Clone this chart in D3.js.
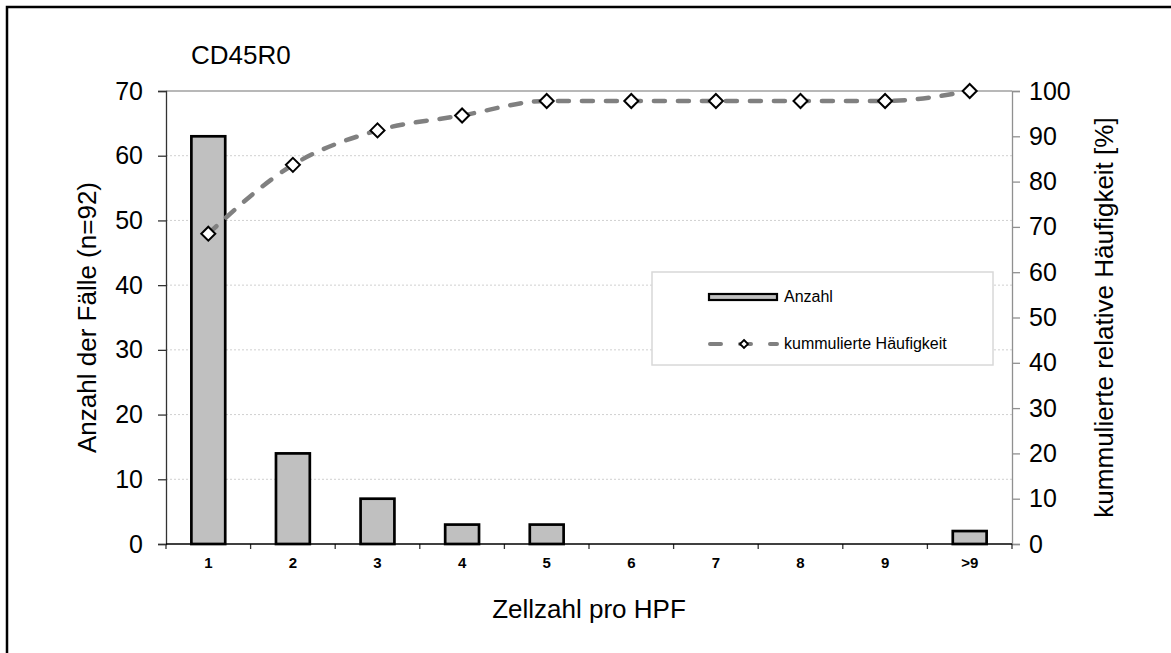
<!DOCTYPE html>
<html>
<head>
<meta charset="utf-8">
<script src="https://cdn.jsdelivr.net/npm/d3@7"></script>
<style>
  html, body { margin: 0; padding: 0; background: #fff; overflow: hidden; }
  text { font-family: "Liberation Sans", Arial, sans-serif; fill: #000; }
</style>
</head>
<body>
<svg id="chart" width="1171" height="653"></svg>
<script>
// Zellzahl pro HPF (CD45R0), n = 92
const categories = ["1", "2", "3", "4", "5", "6", "7", "8", "9", ">9"];
const counts = [63, 14, 7, 3, 3, 0, 0, 0, 0, 2];
const cumulative = [68.5, 83.7, 91.3, 94.6, 97.8, 97.8, 97.8, 97.8, 97.8, 100];
const leftTicks = [0, 10, 20, 30, 40, 50, 60, 70];
const rightTicks = [0, 10, 20, 30, 40, 50, 60, 70, 80, 90, 100];

const svg = d3.select("#chart");
const plot = { left: 166, right: 1012, top: 91, bottom: 544 };
const FONT = "Liberation Sans, Arial, sans-serif";

// outer frame
svg.append("rect")
  .attr("x", 7).attr("y", 7).attr("width", 1300).attr("height", 800)
  .attr("fill", "none").attr("stroke", "#000").attr("stroke-width", 2.5);

const x = d3.scaleBand().domain(categories).range([plot.left, plot.right]).paddingInner(0).paddingOuter(0);
const yL = d3.scaleLinear().domain([0, 70]).range([plot.bottom, plot.top]);
const yR = d3.scaleLinear().domain([0, 100]).range([plot.bottom, plot.top]);

// gridlines
svg.append("g").selectAll("line")
  .data(leftTicks.filter(d => d > 0 && d < 70))
  .join("line")
  .attr("x1", plot.left).attr("x2", plot.right)
  .attr("y1", d => yL(d)).attr("y2", d => yL(d))
  .attr("stroke", "#d0d0d0").attr("stroke-width", 1).attr("stroke-dasharray", "2,2");
svg.append("line")
  .attr("x1", plot.left).attr("x2", plot.right)
  .attr("y1", yL(70)).attr("y2", yL(70))
  .attr("stroke", "#a0a0a0").attr("stroke-width", 1.5);

// bars
const barW = x.bandwidth() * 0.4;
svg.append("g").selectAll("rect")
  .data(counts.map((v, i) => ({ c: categories[i], v })).filter(d => d.v > 0))
  .join("rect")
  .attr("x", d => x(d.c) + x.bandwidth() / 2 - barW / 2)
  .attr("y", d => yL(d.v))
  .attr("width", barW)
  .attr("height", d => yL(0) - yL(d.v))
  .attr("fill", "#c0c0c0").attr("stroke", "#000").attr("stroke-width", 2.7);

// left axis
const leftAxis = svg.append("g").attr("transform", `translate(${plot.left},0)`)
  .call(d3.axisLeft(yL).tickValues(leftTicks).tickSize(8).tickPadding(15).tickFormat(d3.format("d")));
leftAxis.select(".domain").attr("stroke", "#333").attr("stroke-width", 1.3);
leftAxis.selectAll(".tick line").attr("stroke", "#333").attr("stroke-width", 1.3);
leftAxis.selectAll(".tick text").style("font-size", "25px").style("font-family", FONT).attr("fill", "#000");

// right axis
const rightAxis = svg.append("g").attr("transform", `translate(${plot.right},0)`)
  .call(d3.axisRight(yR).tickValues(rightTicks).tickSize(8).tickPadding(9).tickFormat(d3.format("d")));
rightAxis.select(".domain").attr("stroke", "#909090").attr("stroke-width", 1.3);
rightAxis.selectAll(".tick line").attr("stroke", "#909090").attr("stroke-width", 1.3);
rightAxis.selectAll(".tick text").style("font-size", "25px").style("font-family", FONT).attr("fill", "#000");

// x axis
const xTickScale = d3.scaleLinear().domain([0, categories.length]).range([plot.left, plot.right]);
svg.append("g").selectAll("line")
  .data(d3.range(categories.length + 1))
  .join("line")
  .attr("x1", d => xTickScale(d)).attr("x2", d => xTickScale(d))
  .attr("y1", plot.bottom).attr("y2", plot.bottom + 5)
  .attr("stroke", "#333").attr("stroke-width", 1.3);
svg.append("line")
  .attr("x1", plot.left).attr("x2", plot.right)
  .attr("y1", plot.bottom).attr("y2", plot.bottom)
  .attr("stroke", "#000").attr("stroke-width", 1.5);
svg.append("g").selectAll("text")
  .data(categories)
  .join("text")
  .attr("x", d => x(d) + x.bandwidth() / 2)
  .attr("y", 568)
  .attr("text-anchor", "middle")
  .style("font-size", "15px").style("font-weight", "bold")
  .text(d => d);

// cumulative line
const pts = cumulative.map((v, i) => [x(categories[i]) + x.bandwidth() / 2, yR(v)]);
svg.append("path")
  .attr("d", d3.line().curve(d3.curveMonotoneX)(pts))
  .attr("fill", "none").attr("stroke", "#808080").attr("stroke-width", 4.5)
  .attr("stroke-dasharray", "11,13").attr("stroke-linecap", "round");

const diamond = s => `M0,${-s}L${s},0L0,${s}L${-s},0Z`;
svg.append("g").selectAll("path")
  .data(pts)
  .join("path")
  .attr("transform", d => `translate(${d[0]},${d[1]})`)
  .attr("d", diamond(7))
  .attr("fill", "#fff").attr("stroke", "#000").attr("stroke-width", 2);

// titles
svg.append("text").attr("x", 191).attr("y", 64).style("font-size", "26px").text("CD45R0");
svg.append("text")
  .attr("transform", `translate(96,${(plot.top + plot.bottom) / 2}) rotate(-90)`)
  .attr("text-anchor", "middle").style("font-size", "26px")
  .text("Anzahl der Fälle (n=92)");
svg.append("text")
  .attr("transform", `translate(1113,${(plot.top + plot.bottom) / 2}) rotate(-90)`)
  .attr("text-anchor", "middle").style("font-size", "26px")
  .text("kummulierte relative Häufigkeit [%]");
svg.append("text")
  .attr("x", (plot.left + plot.right) / 2).attr("y", 618)
  .attr("text-anchor", "middle").style("font-size", "26px")
  .text("Zellzahl pro HPF");

// legend
const lg = svg.append("g");
lg.append("rect")
  .attr("x", 652).attr("y", 272).attr("width", 341).attr("height", 93)
  .attr("fill", "#fff").attr("stroke", "#d8d8d8").attr("stroke-width", 1.5);
lg.append("rect")
  .attr("x", 709).attr("y", 294).attr("width", 68).attr("height", 6)
  .attr("fill", "#c0c0c0").attr("stroke", "#000").attr("stroke-width", 2.2);
lg.append("text").attr("x", 784).attr("y", 302).style("font-size", "16px").text("Anzahl");
lg.append("line")
  .attr("x1", 710).attr("x2", 777).attr("y1", 344).attr("y2", 344)
  .attr("stroke", "#808080").attr("stroke-width", 4)
  .attr("stroke-dasharray", "11,19").attr("stroke-linecap", "round");
lg.append("path")
  .attr("transform", "translate(744,344)")
  .attr("d", diamond(4))
  .attr("fill", "#fff").attr("stroke", "#000").attr("stroke-width", 1.8);
lg.append("text").attr("x", 784).attr("y", 349).style("font-size", "16px").text("kummulierte Häufigkeit");
</script>
</body>
</html>
